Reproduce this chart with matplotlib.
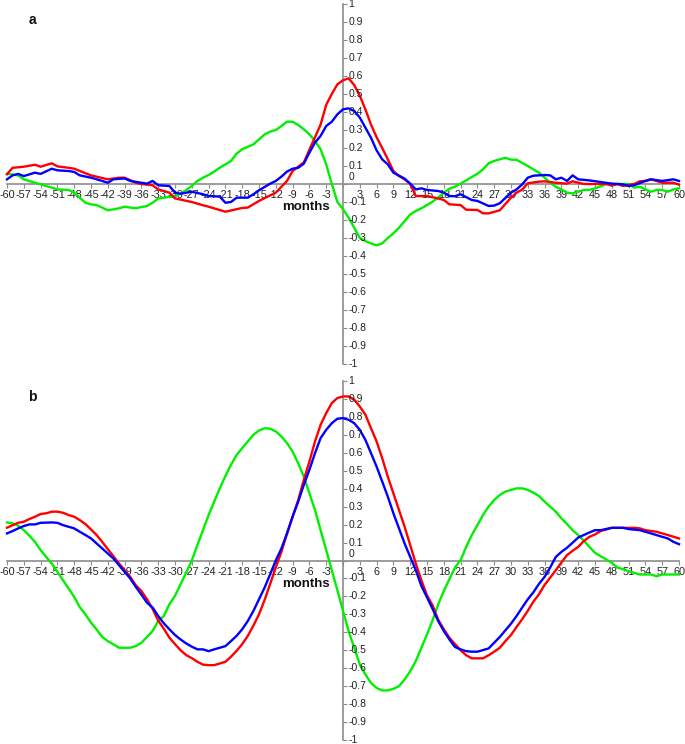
import matplotlib
matplotlib.use('Agg')
import matplotlib.pyplot as plt

plt.rcParams['font.family'] = ['Liberation Sans', 'DejaVu Sans']

# ---- panel a ----
a_red_m = [-60, -59, -57, -55, -54, -52, -51, -49, -48, -46, -45, -42, -40, -39, -37, -36, -34, -33,
           -31, -30, -27, -25, -24, -21, -18, -17, -15, -12, -10, -9, -7, -6, -4, -3, -2, -1, 0, 1,
           2, 3, 4, 5, 6, 7, 8, 9, 10, 11, 12, 13, 15, 17, 18, 19, 21, 22, 24, 25, 26, 28, 30, 31,
           32, 33, 35, 36, 38, 40, 41, 43, 47, 48, 49, 50, 52, 53, 54, 55, 57, 59, 60]
a_red = [0.054, 0.09, 0.096, 0.107, 0.096, 0.115, 0.098, 0.09, 0.085, 0.06, 0.048, 0.026, 0.035, 0.035,
         0.007, 0.0, -0.007, -0.03, -0.048, -0.08, -0.1, -0.118, -0.126, -0.154, -0.133, -0.131,
         -0.094, -0.048, 0.017, 0.072, 0.12, 0.19, 0.33, 0.44, 0.5, 0.554, 0.576, 0.587,
         0.55, 0.49, 0.415, 0.33, 0.26, 0.2, 0.137, 0.072, 0.044, 0.026, 0.0, -0.067, -0.067,
         -0.08, -0.089, -0.113, -0.117, -0.143, -0.144, -0.163, -0.163, -0.146, -0.076, -0.048,
         -0.031, 0.004, 0.013, 0.015, 0.007, 0.002, 0.015, 0.0, 0.0, -0.009, 0.0, -0.011, 0.0,
         0.015, 0.017, 0.026, 0.007, 0.007, -0.004]

a_blue_m = [-60, -59, -58, -57, -55, -54, -52, -51, -49, -48, -47, -45, -43, -42, -41, -39, -38, -36,
            -35, -34, -33, -31, -30, -29, -27, -25, -24, -22, -21, -20, -19, -17, -16, -15, -13, -12,
            -11, -10, -9, -8, -7, -6, -5, -4, -3, -2, -1, 0, 1, 2, 3, 5, 6, 7, 8, 9, 11, 12, 13,
            14, 15, 17, 18, 19, 20, 21, 23, 24, 26, 27, 28, 30, 31, 32, 33, 34, 36, 37, 38, 39, 40,
            41, 42, 44, 46, 48, 50, 51, 52, 54, 55, 57, 59, 60]
a_blue = [0.026, 0.048, 0.056, 0.044, 0.063, 0.056, 0.085, 0.076, 0.072, 0.067, 0.048, 0.035, 0.017,
          0.007, 0.026, 0.031, 0.017, 0.007, 0.002, 0.017, -0.007, -0.011, -0.048, -0.054, -0.043,
          -0.057, -0.067, -0.07, -0.104, -0.1, -0.076, -0.076, -0.057, -0.035, 0.002, 0.017, 0.041,
          0.069, 0.085, 0.09, 0.113, 0.174, 0.23, 0.267, 0.322, 0.346, 0.387, 0.415, 0.42, 0.406,
          0.369, 0.257, 0.187, 0.137, 0.109, 0.063, 0.03, 0.002, -0.03, -0.024, -0.033, -0.039,
          -0.048, -0.067, -0.068, -0.057, -0.089, -0.094, -0.122, -0.12, -0.107, -0.048, -0.03,
          -0.002, 0.035, 0.046, 0.05, 0.048, 0.026, 0.035, 0.017, 0.048, 0.026, 0.02, 0.011,
          0.002, -0.002, -0.011, -0.007, 0.017, 0.026, 0.017, 0.026, 0.017]

a_green_m = [-60, -58, -57, -55, -54, -52, -51, -49] + list(range(-48, 49)) + list(range(50, 61))
a_green = [0.057, 0.048, 0.026, 0.007, -0.002, -0.02, -0.03, -0.033,
           -0.048, -0.076, -0.104, -0.113, -0.117, -0.131, -0.146, -0.141, -0.135, -0.126, -0.131,
           -0.135, -0.128, -0.122, -0.104, -0.081, -0.076, -0.072, -0.067, -0.054, -0.033, -0.011,
           0.017, 0.035, 0.05, 0.069, 0.091, 0.109, 0.128, 0.169, 0.193, 0.207, 0.22, 0.248, 0.276,
           0.291, 0.3, 0.322, 0.346, 0.346, 0.328, 0.304, 0.276, 0.239, 0.193, 0.109, 0.0, -0.1,
           -0.14, -0.187, -0.243, -0.3, -0.317, -0.33, -0.341, -0.33, -0.3, -0.274, -0.243, -0.206,
           -0.169, -0.15, -0.135, -0.117, -0.098, -0.076, -0.048, -0.026, -0.015, 0.002, 0.02,
           0.039, 0.057, 0.081, 0.115, 0.128, 0.137, 0.146, 0.135, 0.135, 0.117, 0.1, 0.081, 0.063,
           0.035, 0.007, -0.015, -0.03, -0.048, -0.052, -0.043, -0.033, -0.033, -0.024, -0.013,
           0.0, 0.0,
           0.0, 0.0, -0.02, -0.015, -0.03, -0.043, -0.033, -0.033, -0.043, -0.03, -0.024]

# ---- panel b ----
b_red_m = [-60] + list(range(-58, 49)) + [50, 52, 53, 54, 56, 58, 60]
b_red = [0.183,
         0.21, 0.216, 0.231, 0.244, 0.259, 0.263, 0.272, 0.272, 0.266, 0.253, 0.244, 0.225, 0.203,
         0.173, 0.142, 0.104, 0.063, 0.024, -0.017, -0.054, -0.091, -0.138, -0.17, -0.216, -0.27,
         -0.335, -0.38, -0.43, -0.466, -0.5, -0.527, -0.544, -0.564, -0.58, -0.583, -0.583, -0.574,
         -0.564, -0.536, -0.503, -0.466, -0.42, -0.363, -0.3, -0.22, -0.13, -0.038, 0.048, 0.15,
         0.244, 0.337, 0.449, 0.551, 0.663, 0.756, 0.821, 0.877, 0.905, 0.914, 0.914, 0.896,
         0.858, 0.812, 0.737, 0.663, 0.57, 0.467, 0.374, 0.281, 0.188, 0.086, -0.017, -0.11,
         -0.195, -0.25, -0.33, -0.383, -0.43, -0.466, -0.5, -0.528, -0.545, -0.545, -0.545, -0.528,
         -0.508, -0.486, -0.449, -0.415, -0.37, -0.327, -0.28, -0.229, -0.188, -0.136, -0.095,
         -0.054, -0.011, 0.03, 0.054, 0.076, 0.108, 0.132, 0.145, 0.164, 0.173, 0.182,
         0.182, 0.182, 0.179, 0.169, 0.16, 0.142, 0.123]

b_blue_m = list(range(-60, -53)) + list(range(-52, 47)) + [48, 50, 51, 53, 55, 57, 58, 59, 60]
b_blue = [0.151, 0.164, 0.179, 0.192, 0.201, 0.201, 0.21,
          0.212, 0.21, 0.197, 0.188, 0.179, 0.16, 0.142, 0.123, 0.095, 0.067, 0.039, 0.011, -0.026,
          -0.063, -0.1, -0.147, -0.19, -0.235, -0.262, -0.309, -0.35, -0.383, -0.415, -0.44, -0.462,
          -0.48, -0.495, -0.495, -0.505, -0.495, -0.486, -0.477, -0.449, -0.42, -0.383, -0.337,
          -0.281, -0.216, -0.151, -0.076, 0.0, 0.067, 0.151, 0.244, 0.328, 0.421, 0.505, 0.598,
          0.682, 0.728, 0.765, 0.79, 0.793, 0.784, 0.765, 0.728, 0.672, 0.598, 0.523, 0.44, 0.356,
          0.263, 0.179, 0.095, 0.02, -0.054, -0.142, -0.205, -0.27, -0.337, -0.393, -0.44, -0.482,
          -0.495, -0.505, -0.508, -0.508, -0.499, -0.49, -0.458, -0.426, -0.389, -0.352, -0.309,
          -0.262, -0.216, -0.177, -0.13, -0.091, -0.039, 0.02, 0.048, 0.071, 0.099, 0.128, 0.142,
          0.156, 0.169, 0.169,
          0.182, 0.182, 0.175, 0.169, 0.151, 0.132, 0.123, 0.104, 0.091]

b_green_m = list(range(-60, 54)) + [55, 56, 57, 60]
b_green = [0.212, 0.207, 0.194, 0.169, 0.138, 0.104, 0.058, 0.02, -0.017, -0.063, -0.11, -0.156,
           -0.203, -0.26, -0.3, -0.346, -0.384, -0.426, -0.449, -0.467, -0.486, -0.486, -0.486,
           -0.477, -0.458, -0.426, -0.393, -0.337, -0.309, -0.244, -0.197, -0.132, -0.067, 0.0,
           0.086, 0.169, 0.253, 0.328, 0.402, 0.471, 0.533, 0.588, 0.626, 0.663, 0.7, 0.724, 0.737,
           0.734, 0.719, 0.691, 0.654, 0.607, 0.542, 0.467, 0.374, 0.281, 0.169, 0.058, -0.054,
           -0.166, -0.28, -0.393, -0.486, -0.579, -0.635, -0.682, -0.71, -0.724, -0.724, -0.715,
           -0.7, -0.663, -0.617, -0.56, -0.486, -0.412, -0.333, -0.244, -0.17, -0.104, -0.039,
           0.002, 0.076, 0.142, 0.197, 0.253, 0.3, 0.337, 0.365, 0.384, 0.393, 0.402, 0.402, 0.393,
           0.378, 0.359, 0.328, 0.3, 0.272, 0.235, 0.203, 0.169, 0.142, 0.11, 0.076, 0.043, 0.024,
           0.006, -0.013, -0.039, -0.048, -0.06, -0.069, -0.078,
           -0.078, -0.088, -0.078, -0.078]

panels = [
    ('a', [(a_green_m, a_green, '#00f000'), (a_red_m, a_red, '#ff0000'), (a_blue_m, a_blue, '#0000ff')]),
    ('b', [(b_green_m, b_green, '#00f000'), (b_red_m, b_red, '#ff0000'), (b_blue_m, b_blue, '#0000ff')]),
]
rects = [[7 / 685, 380 / 744, 672 / 685, 360 / 744],
         [7 / 685, 4 / 744, 672 / 685, 359 / 744]]

fig = plt.figure(figsize=(6.85, 7.44), dpi=100)
xt = list(range(-60, 61, 3))
yt = [round(-1 + 0.1 * i, 1) for i in range(21)]

for (letter, series), rect in zip(panels, rects):
    ax = fig.add_axes(rect)
    for m, v, c in series:
        ax.plot(m, v, color=c, lw=1.7, clip_on=False, zorder=3)
    ax.set_xlim(-60, 60)
    ax.set_ylim(-1, 1)
    for s in ['top', 'right']:
        ax.spines[s].set_visible(False)
    for s in ['left', 'bottom']:
        ax.spines[s].set_position('zero')
        ax.spines[s].set_color('#8c8c8c')
        ax.spines[s].set_linewidth(1.2)
    ax.set_xticks(xt)
    ax.set_xticklabels(['' if t == 0 else str(t) for t in xt], fontsize=7.8, color='#222222')
    ax.tick_params(axis='x', length=3, pad=1.5, color='#8c8c8c')
    ax.set_yticks(yt)
    ax.tick_params(axis='y', direction='in', length=3, labelleft=False, color='#8c8c8c')
    for t in yt:
        lbl = '0' if t == 0 else ('1' if t == 1 else ('-1' if t == -1 else f'{t:g}'))
        dy = 5 if t == 0 else 0
        ax.annotate(lbl, (0, t), xytext=(4, dy), textcoords='offset points',
                    ha='left', va='center', fontsize=7.5, color='#222222')
    ax.text(-6.6, -0.13, 'months', ha='center', va='center', fontsize=9.5,
            fontweight='bold', color='#111111')
    ax.text(-55.4, 0.91, letter, ha='center', va='center', fontsize=10,
            fontweight='bold', color='#111111')
    ax.patch.set_visible(False)

fig.savefig('out.png', dpi=100, facecolor='white')
